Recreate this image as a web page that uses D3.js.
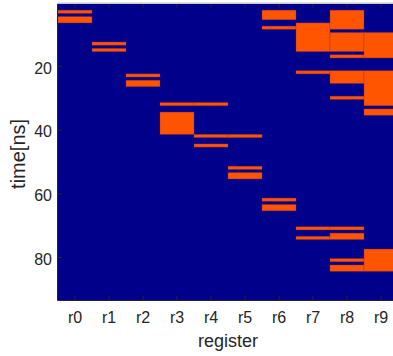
<!DOCTYPE html>
<html>
<head>
<meta charset="utf-8">
<script src="https://cdn.jsdelivr.net/npm/d3@7/dist/d3.min.js"></script>
<style>
  body { margin: 0; background: #fff; }
  svg { display: block; font-family: "Liberation Sans", Arial, sans-serif; }
</style>
</head>
<body>
<svg id="chart" width="393" height="356"></svg>
<script>
// register names (columns)
const registers = ["r0", "r1", "r2", "r3", "r4", "r5", "r6", "r7", "r8", "r9"];

// time slots (ns) where each register is active
const r0 = [3, 5, 6];
const r1 = [13, 15];
const r2 = [23, 25, 26];
const r3 = [32, 35, 36, 37, 38, 39, 40, 41];
const r4 = [32, 42, 45];
const r5 = [42, 52, 54, 55];
const r6 = [3, 4, 5, 8, 62, 64, 65];
const r7 = [7, 8, 9, 10, 11, 12, 13, 14, 15, 22, 71, 74];
const r8 = [3, 4, 5, 6, 7, 8, 10, 11, 12, 13, 14, 15, 17, 22, 23, 24, 25, 30, 71, 73, 74, 81, 83, 84];
const r9 = [10, 11, 12, 13, 14, 15, 16, 17, 22, 23, 24, 25, 26, 27, 28, 29, 30, 31, 32, 34, 35, 78, 79, 80, 81, 82, 83, 84];
const active = [r0, r1, r2, r3, r4, r5, r6, r7, r8, r9];

const timeSteps = 93;
const yTicks = [20, 40, 60, 80];

const bgColor = "#00008a";
const onColor = "#ff5500";
const axisColor = "#262626";

const plotLeft = 58, plotRight = 398, plotTop = 3.8, plotBottom = 300;

const svg = d3.select("#chart");

const x = d3.scaleBand()
  .domain(registers)
  .range([plotLeft, plotRight])
  .padding(0);

const y = d3.scaleLinear()
  .domain([0.5, timeSteps + 0.5])
  .range([plotTop, plotBottom]);

// merge consecutive slots so the blocks have no seams
function toRuns(times) {
  const runs = [];
  times.forEach(t => {
    const last = runs[runs.length - 1];
    if (last && t === last.end + 1) last.end = t;
    else runs.push({ start: t, end: t });
  });
  return runs;
}

const cells = [];
registers.forEach((r, i) => {
  toRuns(active[i]).forEach(run => cells.push({ reg: r, start: run.start, end: run.end }));
});

// background
svg.append("rect")
  .attr("x", plotLeft)
  .attr("y", plotTop)
  .attr("width", plotRight - plotLeft)
  .attr("height", plotBottom - plotTop)
  .attr("fill", bgColor);

svg.append("g")
  .selectAll("rect")
  .data(cells)
  .enter()
  .append("rect")
  .attr("x", d => x(d.reg))
  .attr("y", d => y(d.start - 0.5))
  .attr("width", x.bandwidth())
  .attr("height", d => y(d.end + 0.5) - y(d.start - 0.5))
  .attr("fill", onColor)
  .attr("stroke", "#a0283a")
  .attr("stroke-opacity", 0.45)
  .attr("stroke-width", 0.8);

// axes
const xAxis = svg.append("g")
  .attr("transform", "translate(0," + plotBottom + ")")
  .call(d3.axisBottom(x).tickSize(-4).tickPadding(12));

const xAxisTop = svg.append("g")
  .attr("transform", "translate(0," + plotTop + ")")
  .call(d3.axisTop(x).tickSize(-4).tickFormat(""));

const yAxis = svg.append("g")
  .attr("transform", "translate(" + plotLeft + ",0)")
  .call(d3.axisLeft(y).tickValues(yTicks).tickSize(-4).tickPadding(6));

[xAxis, xAxisTop, yAxis].forEach(g => {
  g.select(".domain").remove();
  g.selectAll(".tick line").attr("stroke", axisColor);
  g.selectAll("text")
    .attr("fill", axisColor)
    .style("font-size", "16px")
    .style("font-family", "'Liberation Sans', Arial, sans-serif");
});
yAxis.selectAll("text").attr("dy", "0.45em");

// box lines
svg.append("line")
  .attr("x1", plotLeft - 0.5).attr("x2", plotLeft - 0.5)
  .attr("y1", plotTop).attr("y2", plotBottom + 0.5)
  .attr("stroke", axisColor);
svg.append("line")
  .attr("x1", plotLeft - 0.5).attr("x2", plotRight)
  .attr("y1", plotBottom + 0.5).attr("y2", plotBottom + 0.5)
  .attr("stroke", axisColor);
svg.append("line")
  .attr("x1", plotLeft - 0.5).attr("x2", plotRight)
  .attr("y1", plotTop - 0.5).attr("y2", plotTop - 0.5)
  .attr("stroke", "#c8c8c8")
  .attr("stroke-width", 1.5);

// labels
svg.append("text")
  .attr("x", (plotLeft + plotRight) / 2)
  .attr("y", 347)
  .attr("text-anchor", "middle")
  .attr("fill", axisColor)
  .style("font-size", "18px")
  .text("register");

svg.append("text")
  .attr("transform", "translate(25," + ((plotTop + plotBottom) / 2 + 2) + ") rotate(-90)")
  .attr("text-anchor", "middle")
  .attr("fill", axisColor)
  .style("font-size", "20px")
  .text("time[ns]");
</script>
</body>
</html>
